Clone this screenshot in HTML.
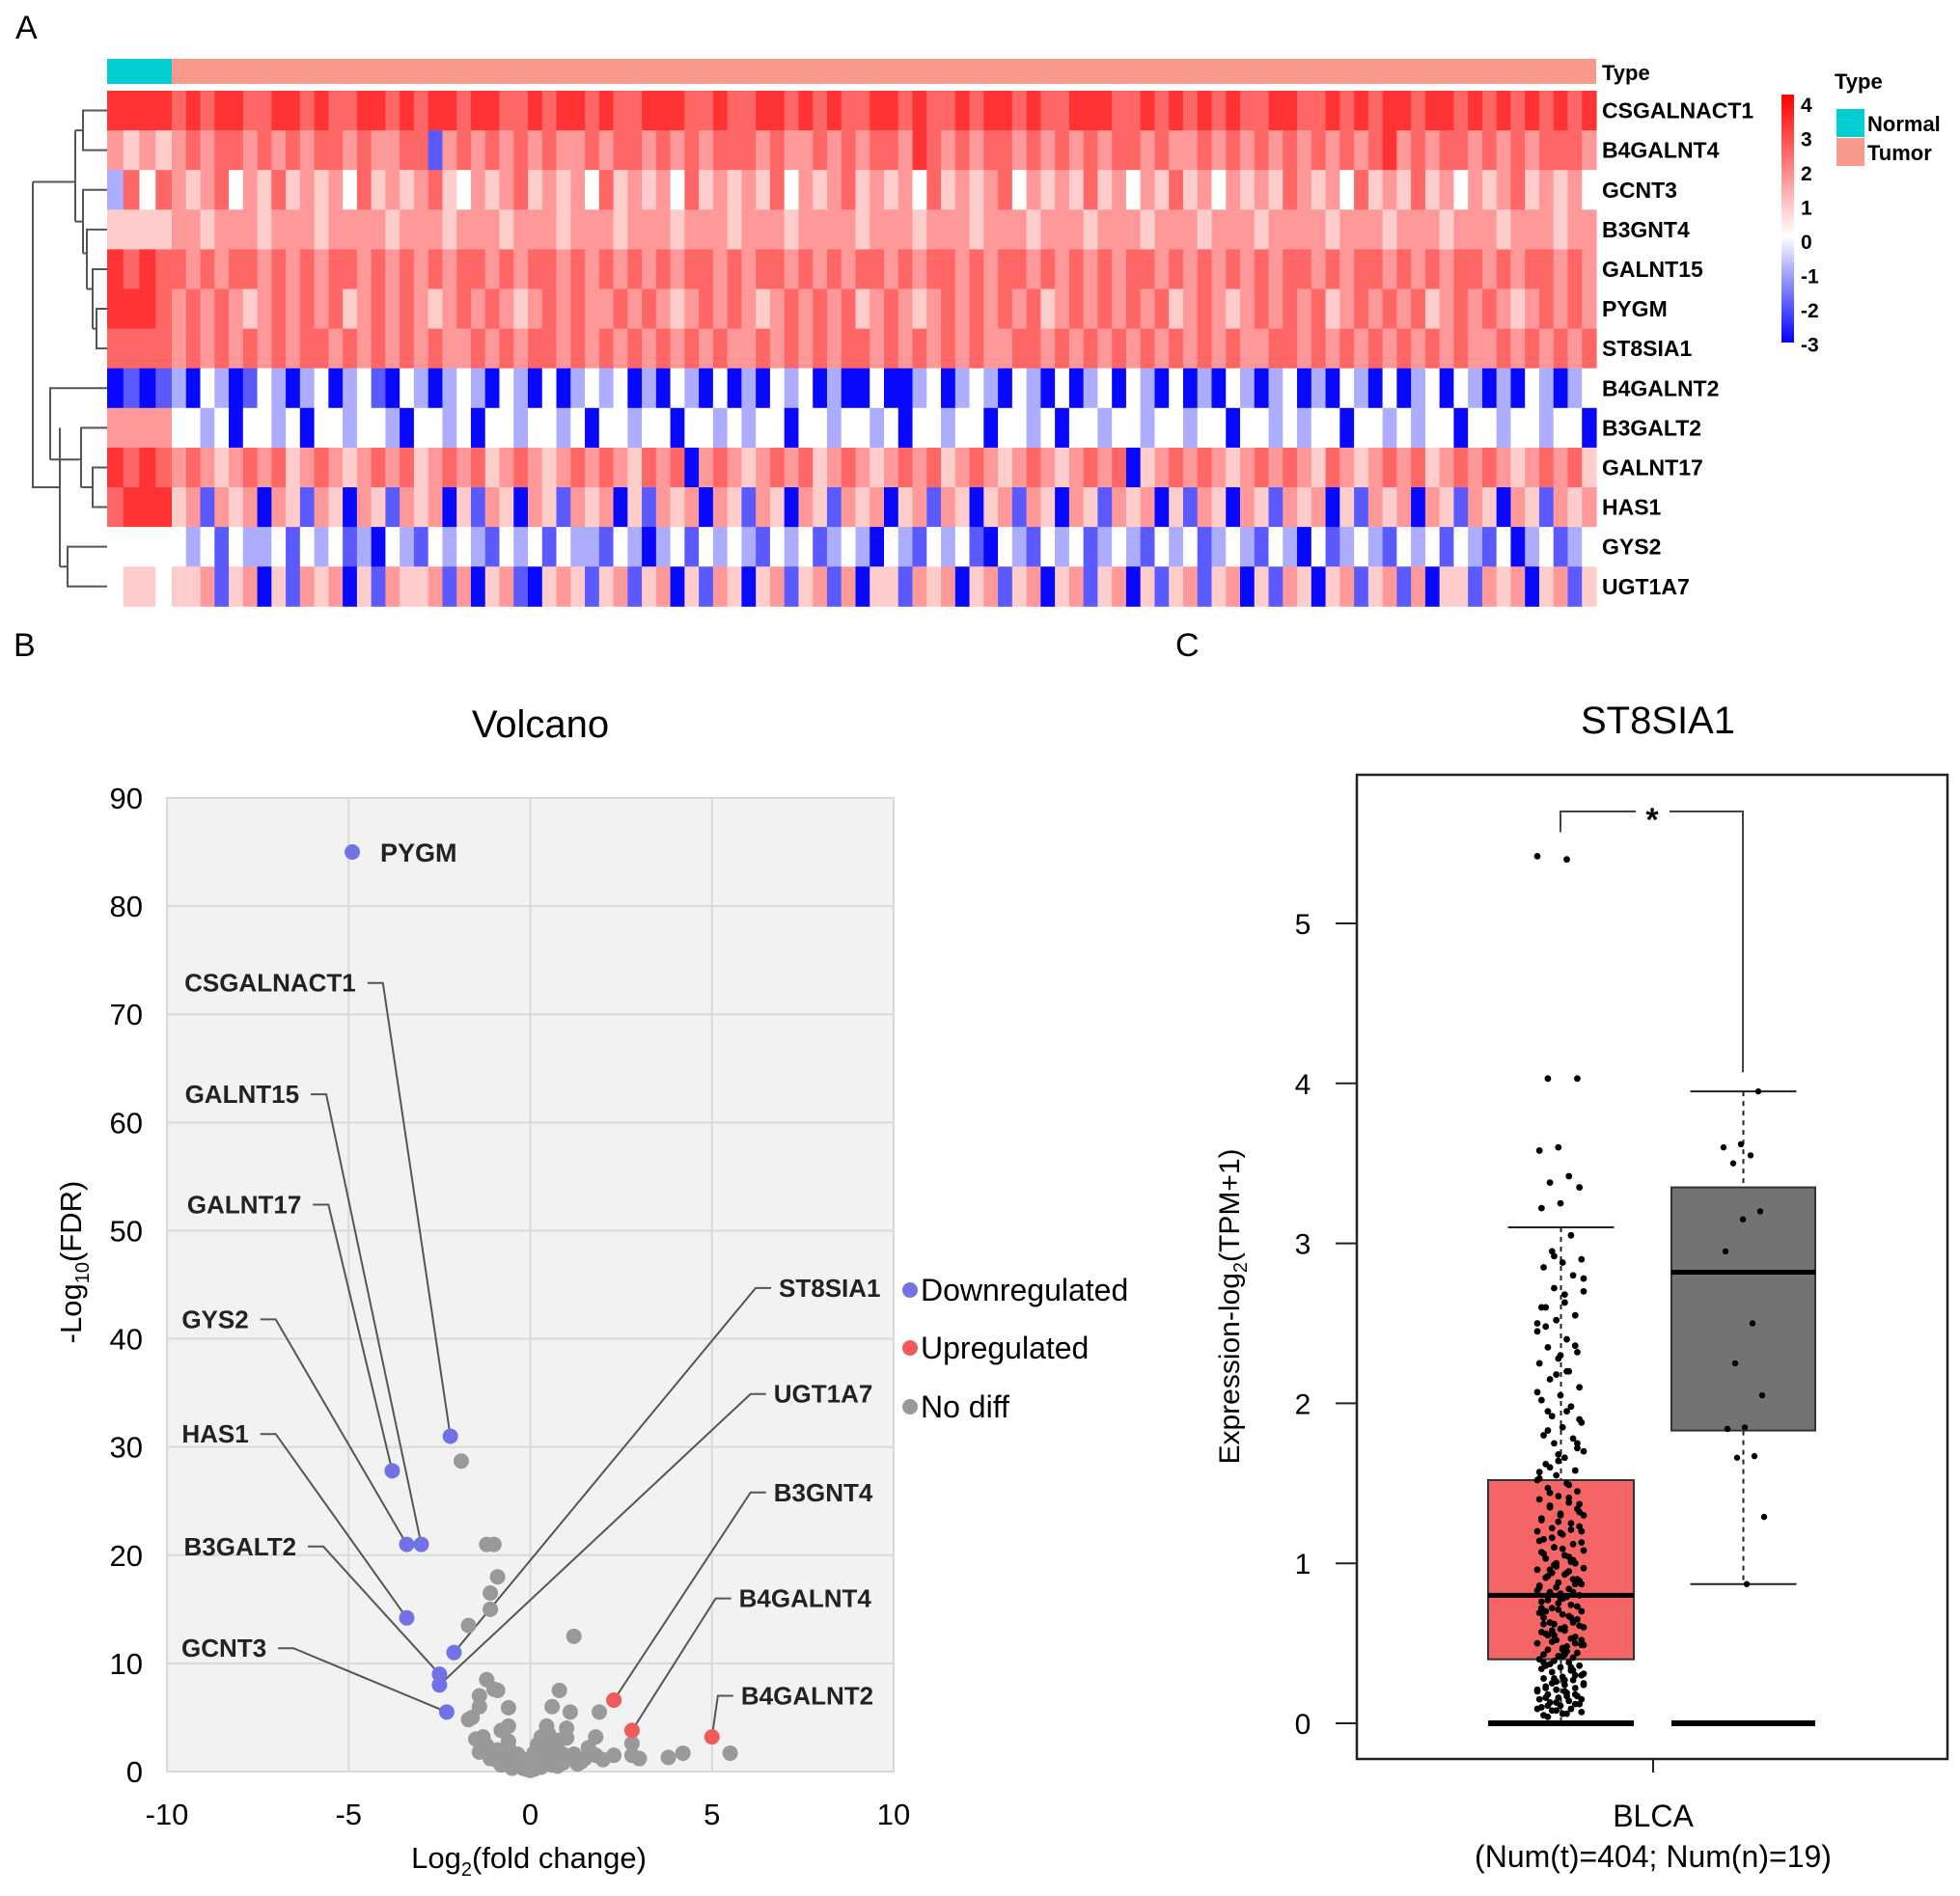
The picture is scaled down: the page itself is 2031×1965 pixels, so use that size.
<!DOCTYPE html>
<html><head><meta charset="utf-8"><style>
html,body{margin:0;padding:0;background:#fff;}
svg{display:block;font-family:"Liberation Sans",Arial,sans-serif;}
</style></head><body>
<svg id="fig" width="2031" height="1965" viewBox="0 0 2031 1965" xmlns="http://www.w3.org/2000/svg">
<g id="panelA"></g>
<g id="panelB"></g>
<g id="panelC"></g>
</svg>
<script>
// ===== Heatmap data =====
const genes = ["CSGALNACT1","B4GALNT4","GCNT3","B3GNT4","GALNT15","PYGM","ST8SIA1","B4GALNT2","B3GALT2","GALNT17","HAS1","GYS2","UGT1A7"];
const normalLevels = ["7777","5454","2636","4444","7676","7776","6666","0101","5555","7676","6777","3333","3443"];
const tumorLevels = [
"6767766776766776767767766767767667776676677676766776766767767667776676767676677667676776776767676767",
"5656656565665655661565656565565665656566656556565665765656656565656656556565656565656756566565656665656556",
"5456354645453645456435456454536454536454546354564545364545635454645354645354546545364546453545645453",
"5545554555455554555455545554555455545554555455554555455545554555455545554555455554555455545554555455",
"6565665656566565656566565665656565656656566565656656566565665656565665656565656656566565656656566565",
"5656545656564565654565654565655656545656545656564565456565656456565656456545656564565656456565456565",
"5656565656656565656556565665656565656565565656566565656565566565656565656565566565656565656556565656",
"2032013202302310320232032030232302032030203230200300230232032030230320302032023020320302303202032023",
"3323033230332332033230332332303323303323233033233230332330332303323323323303323233033232330332332330",
"5654565645654565645656456545656546560565456564565456564565456545656045656545656546545656456565456564",
"4515450541540541545041540541545041545054154054154504515404515405415450415405415450415450541540541545",
"3231322313231203213232132313221320231323213231232032132310321323123213231232132031232132313213023123",
"4451450415450415445150451045414514504154045145150441545045145045145041451450415404514515044154504514"
];
// ===== Volcano data =====
const downX = [-4.9,-2.2,-3.8,-3.4,-3.0,-3.4,-2.1,-2.5,-2.5,-2.3];
const downY = [85,31,27.8,21,21,14.2,11,9,8,5.5];
const upX = [2.3,2.8,5.0];
const upY = [6.6,3.8,3.2];
const nsX = [-1.9,-1.2,-1.0,-0.9,-1.1,-1.1,-1.7,1.2,-1.2,-1.0,-0.9,-1.4,-0.6,-1.4,-1.6,-1.7,-1.5,-1.3,-0.8,-0.6,0.8,0.6,1.1,1.0,0.5,0.3,0.2,0.5,0.7,1.2,1.5,1.8,2.0,1.9,1.8,2.8,3.0,3.8,4.2,5.5,-0.3,-0.2,0.0,0.1,0.2,-0.5,-0.7,-0.9,0.4,0.6,-0.4,0.3,-0.1,-1.1,-0.8,0.9,1.3,-0.6,0.35,0.45,2.3,2.8,-0.2,0.15,0.25,-0.35,-0.45,-0.25,0.05,0.3,0.5,0.7,0.9,-0.6,-0.9,-1.2,-1.4,0.4,0.6,0.8,1.0,1.4,1.6,-0.15,0.1,0.2,0.55,0.75,-0.5,-0.75];
const nsY = [28.7,21,21,18,16.5,15,13.5,12.5,8.5,7.6,7.5,7,5.9,6,5,4.8,3,3.2,3.8,4.2,7.5,6,5.5,4,3.5,3.2,2.5,2,2.4,1.6,1.2,1.5,1.1,5.5,3.2,2.6,1.2,1.3,1.7,1.7,0.5,0.3,0.1,0.2,0.6,1,1.5,2,1,1.3,0.8,0.4,0.2,1.2,0.6,0.8,0.7,2.8,2.8,4.2,1.5,1.5,1.0,1.2,0.9,1.6,0.4,1.2,0.5,1.8,0.9,1.1,1.6,2.2,1.0,2.4,1.8,2.0,0.6,2.9,3.1,0.9,2.2,0.8,1.7,1.4,2.6,0.5,0.3,1.9];
const xTicks = [-10,-5,0,5,10];
const yTicks = [0,10,20,30,40,50,60,70,80,90];
const labelNames = ["CSGALNACT1","GALNT15","GALNT17","GYS2","HAS1","B3GALT2","GCNT3","ST8SIA1","UGT1A7","B3GNT4","B4GALNT4","B4GALNT2"];
const labelX = [-4.8,-6.36,-6.3,-7.75,-7.75,-6.44,-7.26,6.84,6.7,6.7,5.74,5.8];
const labelY = [72.9,62.6,52.4,41.8,31.2,20.8,11.4,44.7,34.9,25.8,16,7];
const targetX = [-2.2,-3.0,-3.8,-3.4,-3.4,-2.5,-2.3,-2.1,-2.5,2.3,2.8,5.0];
const targetY = [31,21,27.8,21,14.2,9,5.5,11,8,6.6,3.8,3.2];
const labelSide = ["L","L","L","L","L","L","L","R","R","R","R","R"];
// ===== Boxplot data =====
const groups = ["Tumor","Normal"];
const q1 = [0.4,1.83];
const med = [0.8,2.82];
const q3 = [1.52,3.35];
const whiskLo = [0,0.87];
const whiskHi = [3.1,3.95];
const bTicks = [0,1,2,3,4,5];
const tumorPts = [5.42,5.4,4.03,4.03,3.6,3.58,3.42,3.38,3.35,3.25,3.22,3.05,2.95,2.9,2.88,2.85,2.8,2.72,2.7,2.68,2.6,2.55,2.52,2.45,2.4,2.35,2.32,2.28,2.25,2.2,2.15,2.1,2.05,2.02,1.98,1.92,1.88,1.85,1.8,1.78,1.75,1.7,1.66,1.62,1.58,1.55,1.52,1.5,1.47,1.45,1.42,1.4,1.38,1.35,1.32,1.3,1.28,1.25,1.22,1.2,1.18,1.15,1.12,1.1,1.08,1.05,1.03,1.0,0.98,0.96,0.94,0.92,0.9,0.88,0.86,0.84,0.82,0.8,0.78,0.76,0.74,0.72,0.7,0.68,0.66,0.64,0.62,0.6,0.58,0.56,0.54,0.52,0.5,0.48,0.46,0.44,0.42,0.4,0.38,0.37,0.36,0.35,0.34,0.33,0.32,0.3,0.29,0.28,0.27,0.26,0.25,0.24,0.23,0.22,0.21,0.2,0.19,0.18,0.17,0.16,0.15,0.14,0.13,0.12,0.11,0.1,0.09,0.08,0.07,0.06,0.05,0.9,1.1,1.3,0.6,0.7,0.5,1.0,1.2,0.45,0.55,0.65,0.75,0.85,0.95,1.6,1.9,2.3,2.6,0.35,0.25,0.15,0.42,0.62,0.82,
2.92,2.78,2.63,2.48,2.36,2.18,2.07,1.95,1.83,1.72,1.64,1.57,1.49,1.44,1.37,1.31,1.27,1.21,1.16,1.13,1.09,1.06,1.02,0.99,0.97,0.93,0.91,0.87,0.85,0.83,0.79,0.77,0.73,0.71,0.69,0.67,0.63,0.61,0.59,0.57,0.53,0.51,0.49,0.47,0.43,0.41,0.39,0.31,0.27,0.22,0.18,0.13,0.09,0.06,0.04,1.34,1.26,1.14,1.04,0.96,0.89,0.81,0.72,0.66,0.58,0.52,0.46,0.38,0.33,0.28,0.24,0.2,0.16,0.12,0.08,2.5,2.2,1.95,1.75,1.68,1.53,1.41,1.36,1.23,1.19,1.07,1.01,0.94,0.87,0.78,0.7,0.63,0.55,0.49,0.43,0.36,0.3,0.26,0.21,0.17,0.11];
const normalPts = [3.95,3.62,3.6,3.55,3.5,3.2,3.15,2.95,2.5,2.25,2.05,1.85,1.84,1.67,1.66,1.29,0.87];

const NS="http://www.w3.org/2000/svg";
function mk(parent,tag,attrs,text){const e=document.createElementNS(NS,tag);for(const k in attrs)e.setAttribute(k,attrs[k]);if(text!==undefined)e.textContent=text;parent.appendChild(e);return e;}

// ================= Panel A =================
const A=document.getElementById('panelA');
let t=mk(A,'text',{x:16,y:40,'font-size':34});t.textContent='A';


const hx0=111,hx1=1654,hy0=94,rowH=41.1,nx1=178;
let r=mk(A,'rect',{x:hx0,y:61,width:nx1-hx0,height:26,fill:'#00CED1'});


r=mk(A,'rect',{x:nx1,y:61,width:hx1-nx1,height:26,fill:'#F8998C'});


t=mk(A,'text',{x:1660,y:83,'font-size':22,'font-weight':'bold'},'Type');


function hcol(v){let R,G,B;if(v>=0){const f=Math.min(v/4,1)*0.8;R=255;G=B=Math.round(255*(1-f));}else{const f=Math.min(-v/3,1);R=G=Math.round(255*(1-f*0.97));B=255;}return `rgb(${R},${G},${B})`;}
genes.forEach((g,i)=>{
  const y=hy0+i*rowH;
  const row=mk(A,'g',{});
  
  
  const nv=normalLevels[i], tv=tumorLevels[i].slice(0,100);
  const nw=(nx1-hx0)/nv.length, tw=(hx1-nx1)/tv.length;
  for(let j=0;j<nv.length;j++){const c=mk(row,'rect',{x:hx0+j*nw,y:y,width:nw+0.6,height:rowH+0.5,fill:hcol(+nv[j]-3)});
    
    }
  for(let j=0;j<tv.length;j++){const c=mk(row,'rect',{x:nx1+j*tw,y:y,width:tw+0.6,height:rowH+0.5,fill:hcol(+tv[j]-3)});
    
    }
  const l=mk(A,'text',{x:1660,y:y+rowH/2+8,'font-size':23,'font-weight':'bold'},g);
  
  
});
// dendrogram
const rc=i=>hy0+(i+0.5)*rowH;
const dend=mk(A,'path',{fill:'none',stroke:'#555','stroke-width':2,d:
`M111,${rc(0)}H86V${rc(1)}H111 M86,${(rc(0)+rc(1))/2}H78
 M111,${rc(5)}H100V${rc(6)}H111 M100,${(rc(5)+rc(6))/2}H96 M111,${rc(4)}H96V${(rc(5)+rc(6))/2} M96,${(rc(4)+rc(5))/2}H90
 M111,${rc(3)}H90V${(rc(4)+rc(5))/2} M90,${rc(3.6)}H86 M111,${rc(2)}H86V${rc(3.6)} M86,${rc(2.8)}H78
 M78,${(rc(0)+rc(1))/2}V${rc(2.8)} M78,${rc(1.8)}H34
 M111,${rc(9)}H96V${rc(10)}H111 M96,${rc(9.5)}H84 M111,${rc(8)}H84V${rc(9.5)} M84,${rc(8.8)}H78
 M111,${rc(11)}H70V${rc(12)}H111 M70,${rc(11.5)}H62 M111,${rc(7)}H52V${rc(8.8)} M78,${rc(8.8)}H52 M62,${rc(8)}V${rc(11.5)} M62,${rc(9.5)}H50
 M34,${rc(1.8)}V${rc(9.5)}H50`});


// colorbar
const cb=mk(A,'defs',{});
const lg=mk(cb,'linearGradient',{id:'cbg',x1:0,y1:0,x2:0,y2:1});
mk(lg,'stop',{offset:'0','stop-color':'#ff0000'});
mk(lg,'stop',{offset:'0.57','stop-color':'#ffffff'});
mk(lg,'stop',{offset:'1','stop-color':'#0000ff'});
r=mk(A,'rect',{x:1846,y:98,width:13,height:257,fill:'url(#cbg)'});


[4,3,2,1,0,-1,-2,-3].forEach((v,k)=>{const tt=mk(A,'text',{x:1866,y:116+k*35.5,'font-size':21,'font-weight':'bold'},String(v));
  
  });
t=mk(A,'text',{x:1901,y:92,'font-size':22,'font-weight':'bold'},'Type');


[['#00CED1','Normal',113],['#F8998C','Tumor',143]].forEach(([c,n,y])=>{
  const g=mk(A,'g',{});
  
  
  mk(g,'rect',{x:1903,y:y,width:29,height:29,fill:c});
  mk(g,'text',{x:1935,y:y+23,'font-size':22,'font-weight':'bold'},n);
});

// ================= Panel B =================
const B=document.getElementById('panelB');
t=mk(B,'text',{x:14,y:680,'font-size':34},'B');


const px0=173,px1=926,py0=827,py1=1836;
const X=v=>px0+(v+10)/20*(px1-px0);
const Y=v=>py1-v/90*(py1-py0);
t=mk(B,'text',{x:560,y:764,'font-size':40,'text-anchor':'middle'},'Volcano');


r=mk(B,'rect',{x:px0,y:py0,width:px1-px0,height:py1-py0,fill:'#f2f2f2',stroke:'#d6d6d6','stroke-width':2});


yTicks.forEach(v=>{const l=mk(B,'line',{x1:px0,x2:px1,y1:Y(v),y2:Y(v),stroke:'#d9d9d9','stroke-width':2});
  
  
  const tt=mk(B,'text',{x:148,y:Y(v)+11,'font-size':31,'text-anchor':'end'},String(v));
  
  });
xTicks.forEach(v=>{const l=mk(B,'line',{x1:X(v),x2:X(v),y1:py0,y2:py1,stroke:'#d9d9d9','stroke-width':2});
  
  
  const tt=mk(B,'text',{x:X(v),y:1891,'font-size':31,'text-anchor':'middle'},String(v));
  
  });
t=mk(B,'text',{x:548,y:1936,'font-size':31,'text-anchor':'middle'});
t.innerHTML='Log<tspan font-size="20" dy="8">2</tspan><tspan dy="-8">(fold change)</tspan>';


t=mk(B,'text',{x:0,y:0,'font-size':31,'text-anchor':'middle',transform:'translate(84,1308) rotate(-90)'});
t.innerHTML='-Log<tspan font-size="20" dy="8">10</tspan><tspan dy="-8">(FDR)</tspan>';


labelNames.forEach((n,i)=>{
  const lx=X(labelX[i]),ly=Y(labelY[i]),tx=X(targetX[i]),ty=Y(targetY[i]);
  let d,anchor;
  if(labelSide[i]==='L'){d=`M${lx+12},${ly}H${lx+28}L${tx},${ty}`;anchor='end';}
  else{d=`M${lx-8},${ly}H${lx-24}L${tx},${ty}`;anchor='start';}
  const p=mk(B,'path',{d:d,fill:'none',stroke:'#555','stroke-width':2});
  
  
  const tt=mk(B,'text',{x:lx,y:ly+9,'font-size':26,'font-weight':'bold','text-anchor':anchor,fill:'#222'},n);
  
  
});
nsX.forEach((v,i)=>{const c=mk(B,'circle',{cx:X(v),cy:Y(nsY[i]),r:8,fill:'#999999'});
  
  });
downX.forEach((v,i)=>{const c=mk(B,'circle',{cx:X(v),cy:Y(downY[i]),r:8,fill:'#7272e8'});
  
  });
upX.forEach((v,i)=>{const c=mk(B,'circle',{cx:X(v),cy:Y(upY[i]),r:8,fill:'#f05a5a'});
  
  });
t=mk(B,'text',{x:X(-4.13),y:Y(85)+10,'font-size':27,'font-weight':'bold',fill:'#222'},'PYGM');


[['#7272e8','Downregulated',1337],['#f05a5a','Upregulated',1397],['#999999','No diff',1458]].forEach(([c,n,y])=>{
  const g=mk(B,'g',{});
  
  
  mk(g,'circle',{cx:943,cy:y,r:8,fill:c});
  mk(g,'text',{x:954,y:y+11,'font-size':32},n);
});

// ================= Panel C =================
const C=document.getElementById('panelC');
t=mk(C,'text',{x:1218,y:680,'font-size':34},'C');


const BY=v=>1786-v*165.8;
const bx0=1406,bx1=2018,by0=803,by1=1823;
t=mk(C,'text',{x:1718,y:760,'font-size':40,'text-anchor':'middle'},'ST8SIA1');


r=mk(C,'rect',{x:bx0,y:by0,width:bx1-bx0,height:by1-by0,fill:'none',stroke:'#222','stroke-width':2.5});


bTicks.forEach(v=>{const l=mk(C,'line',{x1:bx0-22,x2:bx0,y1:BY(v),y2:BY(v),stroke:'#222','stroke-width':2});
  
  
  const tt=mk(C,'text',{x:1350,y:BY(v)+11,'font-size':30,'text-anchor':'middle'},String(v));
  
  });
t=mk(C,'text',{x:0,y:0,'font-size':30,'text-anchor':'middle',transform:'translate(1284,1354) rotate(-90)'});
t.innerHTML='Expression-log<tspan font-size="20" dy="8">2</tspan><tspan dy="-8">(TPM+1)</tspan>';


let l=mk(C,'line',{x1:1713,x2:1713,y1:by1,y2:by1+14,stroke:'#222','stroke-width':2});


t=mk(C,'text',{x:1713,y:1893,'font-size':32,'text-anchor':'middle'},'BLCA');


t=mk(C,'text',{x:1713,y:1935,'font-size':32,'text-anchor':'middle'},'(Num(t)=404; Num(n)=19)');


const boxL=[1542,1732],boxR=[1693,1881],fills=['#f56565','#737373'];
groups.forEach((gname,i)=>{
  const g=mk(C,'g',{});
  
  
  const cx=(boxL[i]+boxR[i])/2;
  mk(g,'line',{x1:cx,x2:cx,y1:BY(whiskHi[i]),y2:BY(q3[i]),stroke:'#222','stroke-width':2,'stroke-dasharray':'5,5'});
  mk(g,'line',{x1:cx,x2:cx,y1:BY(q1[i]),y2:BY(whiskLo[i]),stroke:'#222','stroke-width':2,'stroke-dasharray':'5,5'});
  mk(g,'line',{x1:cx-55,x2:cx+55,y1:BY(whiskHi[i]),y2:BY(whiskHi[i]),stroke:'#222','stroke-width':2});
  mk(g,'line',{x1:cx-55,x2:cx+55,y1:BY(whiskLo[i]),y2:BY(whiskLo[i]),stroke:'#222','stroke-width':2});
  mk(g,'rect',{x:boxL[i],y:BY(q3[i]),width:boxR[i]-boxL[i],height:BY(q1[i])-BY(q3[i]),fill:fills[i],stroke:'#333','stroke-width':2});
  mk(g,'line',{x1:boxL[i],x2:boxR[i],y1:BY(med[i]),y2:BY(med[i]),stroke:'#000','stroke-width':5});
  mk(g,'line',{x1:boxL[i],x2:boxR[i],y1:BY(0),y2:BY(0),stroke:'#000','stroke-width':6});
});
const jit=k=>((k*37)%23-11)/11;
tumorPts.forEach((v,k)=>{const c=mk(C,'circle',{cx:1617+jit(k)*24,cy:BY(v),r:3.4,fill:'#000'});
  
  });
normalPts.forEach((v,k)=>{const c=mk(C,'circle',{cx:1806+jit(k+3)*22,cy:BY(v),r:3.2,fill:'#000'});
  
  });
const br=mk(C,'path',{d:`M1617,${BY(5.57)}V${BY(5.7)}H1695 M1730,${BY(5.7)}H1806V${BY(4.07)}`,fill:'none',stroke:'#444','stroke-width':2});


t=mk(C,'text',{x:1712,y:BY(5.7)+20,'font-size':34,'font-weight':'bold','text-anchor':'middle'},'*');


</script>
</body></html>
